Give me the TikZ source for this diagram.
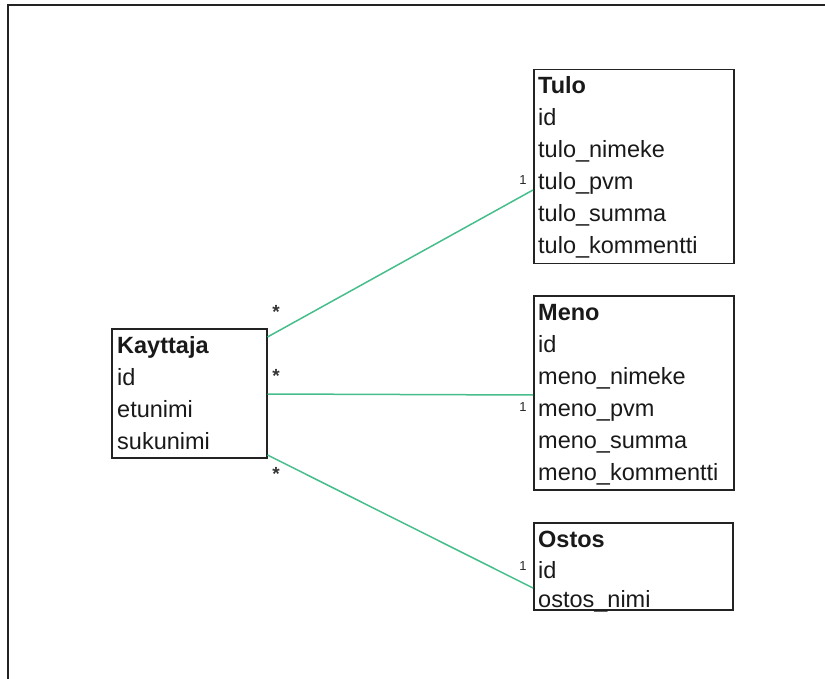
\documentclass[tikz,border=0pt]{standalone}
\usepackage{fontspec}
\setmainfont{Liberation Sans}
\usetikzlibrary{positioning}
\definecolor{linkgreen}{RGB}{70,190,140}
\definecolor{framegray}{RGB}{35,35,35}
\tikzset{
  entity/.style={draw=framegray, line width=1.5pt, inner sep=0pt, anchor=north west},
  field/.style={inner sep=0pt, anchor=base west, font=\fontsize{23.5}{25}\selectfont, text=black!90},
  title/.style={field, font=\fontsize{23.5}{25}\selectfont\bfseries},
  link/.style={draw=linkgreen, line width=1.5pt},
  mult/.style={inner sep=0pt, font=\fontsize{13}{15}\selectfont, text=black!85},
  star/.style={inner sep=0pt, font=\fontsize{19}{21}\selectfont\bfseries, text=black!80},
}
\begin{document}
\begin{tikzpicture}[x=1pt, y=-1pt]
  \useasboundingbox (0,0) rectangle (825,679);
  % outer frame
  \draw[framegray, line width=1.8pt] (8,679) -- (8,5) -- (825,5);

  % Kayttaja
  \node[entity, minimum width=155pt, minimum height=129pt] (kay) at (111,328) {};
  \node[title] (kayT) at (117,353) {Kayttaja};
  \node[field] (kay1) at (117,385) {id};
  \node[field] (kay2) at (117,417) {etunimi};
  \node[field] (kay3) at (117,449) {sukunimi};

  % Tulo
  \node[entity, minimum width=200pt, minimum height=194pt] (tulo) at (533,69) {};
  \node[title] (tuloT) at (538,94) {Tulo};
  \node[field] (tulo1) at (538,126) {id};
  \node[field] (tulo2) at (538,158) {tulo\_nimeke};
  \node[field] (tulo3) at (538,190) {tulo\_pvm};
  \node[field] (tulo4) at (538,222) {tulo\_summa};
  \node[field] (tulo5) at (538,254) {tulo\_kommentti};

  % Meno
  \node[entity, minimum width=200pt, minimum height=194pt] (meno) at (533,295) {};
  \node[title] (menoT) at (538,320) {Meno};
  \node[field] (meno1) at (538,352) {id};
  \node[field] (meno2) at (538,384) {meno\_nimeke};
  \node[field] (meno3) at (538,416) {meno\_pvm};
  \node[field] (meno4) at (538,448) {meno\_summa};
  \node[field] (meno5) at (538,480) {meno\_kommentti};

  % Ostos
  \node[entity, minimum width=199pt, minimum height=87pt] (ost) at (533,522) {};
  \node[title] (ostT) at (538,547) {Ostos};
  \node[field] (ost1) at (538,578) {id};
  \node[field] (ost2) at (538,607) {ostos\_nimi};

  % associations
  \draw[link] ([yshift=-9pt]kay.north east) -- ([yshift=-121pt]tulo.north west);
  \draw[link] ([yshift=-66pt]kay.north east) -- ([yshift=-100pt]meno.north west);
  \draw[link] ([yshift=-127pt]kay.north east) -- ([yshift=-66pt]ost.north west);

  % multiplicities
  \node[star] (m1) at (276,312) {*};
  \node[star] (m2) at (276,376) {*};
  \node[star] (m3) at (276,474) {*};
  \node[mult] (n1) at (523,180) {1};
  \node[mult] (n2) at (523,407) {1};
  \node[mult] (n3) at (523,566) {1};
\end{tikzpicture}
\end{document}
